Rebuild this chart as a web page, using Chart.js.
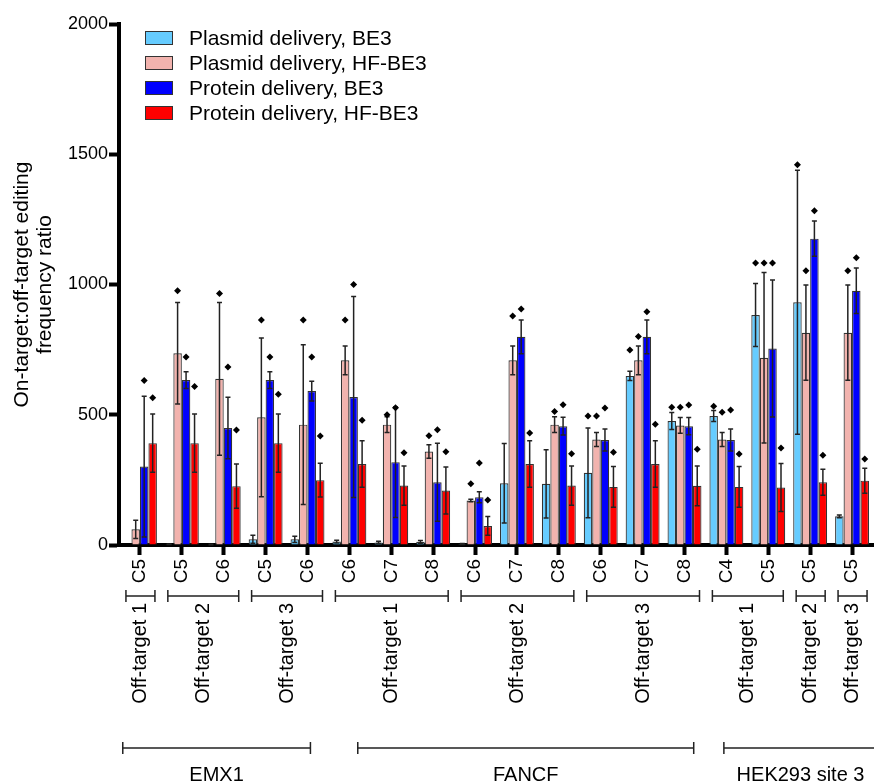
<!DOCTYPE html>
<html>
<head>
<meta charset="UTF-8">
<title>On-target:off-target editing frequency ratio</title>
<script src="https://cdn.jsdelivr.net/npm/chart.js"></script>
<style>
    html, body { margin: 0; padding: 0; background: #fff; }
    .chart-container { width: 874px; height: 782px; }
</style>
</head>
<body>
<div class="chart-container">
    <canvas id="ratioChart" width="874" height="782"></canvas>
</div>
<script>
// categories (editing position on each off-target site)
const siteLabels = ['C5', 'C5', 'C6', 'C5', 'C6', 'C6', 'C7', 'C8', 'C6', 'C7', 'C8', 'C6', 'C7', 'C8', 'C4', 'C5', 'C5', 'C5'];

const seriesNames = ['Plasmid delivery, BE3', 'Plasmid delivery, HF-BE3', 'Protein delivery, BE3', 'Protein delivery, HF-BE3'];
const seriesColors = ['#66CCFF', '#F2B3AE', '#0000FF', '#FF0000'];

// mean values
const plasmidBE3 = [0, 3, 2, 22, 22, 13, 10, 12, 4, 237, 235, 277, 649, 476, 495, 883, 932, 110];
const plasmidHF = [60, 736, 638, 490, 462, 709, 462, 359, 171, 709, 462, 405, 709, 459, 405, 719, 815, 815];
const proteinBE3 = [301, 633, 449, 633, 591, 568, 318, 241, 183, 799, 456, 403, 799, 456, 403, 754, 1176, 976];
const proteinHF = [391, 391, 226, 391, 249, 311, 228, 209, 73, 311, 228, 223, 311, 227, 223, 221, 241, 247];

// error bars (+/-)
const plasmidBE3Err = [0, 1, 1, 15, 12, 5, 4, 5, 2, 153, 131, 172, 18, 33, 21, 121, 507, 5];
const plasmidHFErr = [35, 195, 293, 305, 307, 55, 30, 26, 5, 55, 30, 27, 55, 30, 27, 327, 183, 183];
const proteinBE3Err = [270, 32, 118, 32, 38, 386, 212, 150, 21, 65, 34, 42, 65, 33, 42, 263, 68, 87];
const proteinHFErr = [112, 112, 85, 112, 65, 89, 75, 90, 36, 89, 75, 78, 89, 76, 78, 92, 50, 48];

// diamond markers above the bars
const plasmidBE3Dots = [null, null, null, null, null, null, null, null, null, null, null, 495, 749, 529, 533, 1083, 1460, null];
const plasmidHFDots = [null, 976, 965, 864, 864, 864, 500, 419, 235, 879, 512, 495, 800, 529, 510, 1083, 1053, 1053];
const proteinBE3Dots = [631, 722, 683, 722, 722, 1000, 527, 442, 315, 906, 538, 526, 895, 537, 518, 1083, 1283, 1103];
const proteinHFDots = [565, 608, 441, 579, 418, 479, 354, 358, 173, 430, 350, 356, 464, 368, 349, 372, 345, 330];

// off-target brackets (category index ranges)
const offTargetLabels = ['Off-target 1', 'Off-target 2', 'Off-target 3', 'Off-target 1', 'Off-target 2', 'Off-target 3', 'Off-target 1', 'Off-target 2', 'Off-target 3'];
const offTargetFirst = [0, 1, 3, 5, 8, 11, 14, 16, 17];
const offTargetLast = [0, 2, 4, 7, 10, 13, 15, 16, 17];

// gene brackets (fractional category positions)
const geneLabels = ['EMX1', 'FANCF', 'HEK293 site 3'];
const geneStart = [-0.41, 5.2, 13.94];
const geneEnd = [4.07, 13.22, 17.6];

const yTicks = [0, 500, 1000, 1500, 2000];

const values = [plasmidBE3, plasmidHF, proteinBE3, proteinHF];
const errors = [plasmidBE3Err, plasmidHFErr, proteinBE3Err, proteinHFErr];
const dots = [plasmidBE3Dots, plasmidHFDots, proteinBE3Dots, proteinHFDots];

const FONT = '"Liberation Sans", Arial, Helvetica, sans-serif';
Chart.defaults.font.family = FONT;
Chart.defaults.color = '#000';

function diamond(ctx, x, y, r) {
    ctx.beginPath();
    ctx.moveTo(x, y - r);
    ctx.lineTo(x + r, y);
    ctx.lineTo(x, y + r);
    ctx.lineTo(x - r, y);
    ctx.closePath();
    ctx.fill();
}

// error bars + markers, drawn over the bars
const errorBarPlugin = {
    id: 'errorBars',
    afterDatasetsDraw(chart) {
        const ctx = chart.ctx;
        const y = chart.scales.y;
        ctx.save();
        values.forEach((vals, di) => {
            const meta = chart.getDatasetMeta(di);
            meta.data.forEach((bar, i) => {
                const e = errors[di][i];
                if (e > 0) {
                    const top = y.getPixelForValue(vals[i] + e);
                    const bot = y.getPixelForValue(Math.max(vals[i] - e, 0));
                    ctx.strokeStyle = '#222';
                    ctx.lineWidth = 1.5;
                    ctx.beginPath();
                    ctx.moveTo(bar.x, top);
                    ctx.lineTo(bar.x, bot);
                    ctx.moveTo(bar.x - 2.5, top);
                    ctx.lineTo(bar.x + 2.5, top);
                    ctx.moveTo(bar.x - 2.5, bot);
                    ctx.lineTo(bar.x + 2.5, bot);
                    ctx.stroke();
                }
                const d = dots[di][i];
                if (d !== null) {
                    ctx.fillStyle = '#000';
                    diamond(ctx, bar.x, y.getPixelForValue(d), 3.5);
                }
            });
        });
        ctx.restore();
    }
};

// legend, axis title and grouping brackets under the x axis
const annotationPlugin = {
    id: 'annotations',
    afterDraw(chart) {
        const ctx = chart.ctx;
        const x = chart.scales.x;
        const area = chart.chartArea;
        ctx.save();

        // legend
        ctx.font = '21px ' + FONT;
        ctx.textBaseline = 'middle';
        ctx.textAlign = 'left';
        seriesNames.forEach((name, i) => {
            const cy = 38 + i * 25;
            ctx.fillStyle = seriesColors[i];
            ctx.fillRect(145, cy - 7, 28, 14);
            ctx.strokeStyle = '#333';
            ctx.lineWidth = 1;
            ctx.strokeRect(145.5, cy - 6.5, 27, 13);
            ctx.fillStyle = '#000';
            ctx.fillText(name, 189, cy + 1);
        });

        // y axis title
        ctx.save();
        ctx.translate(0, (area.top + area.bottom) / 2);
        ctx.rotate(-Math.PI / 2);
        ctx.textAlign = 'center';
        ctx.fillText('On-target:off-target editing', 0, 22);
        ctx.fillText('frequency ratio', 0, 45);
        ctx.restore();

        ctx.font = '20px ' + FONT;
        ctx.strokeStyle = '#222';
        ctx.lineWidth = 1.5;

        // off-target brackets + rotated labels
        offTargetLabels.forEach((label, i) => {
            const x0 = x.getPixelForValue(offTargetFirst[i]) - 14;
            const x1 = x.getPixelForValue(offTargetLast[i]) + 15;
            const by = 596;
            ctx.beginPath();
            ctx.moveTo(x0, by); ctx.lineTo(x1, by);
            ctx.moveTo(x0, by - 6); ctx.lineTo(x0, by + 6);
            ctx.moveTo(x1, by - 6); ctx.lineTo(x1, by + 6);
            ctx.stroke();
            ctx.save();
            ctx.translate((x0 + x1) / 2, 603);
            ctx.rotate(-Math.PI / 2);
            ctx.textAlign = 'right';
            ctx.textBaseline = 'middle';
            ctx.fillStyle = '#000';
            ctx.fillText(label, 0, 0);
            ctx.restore();
        });

        // gene brackets + labels
        geneLabels.forEach((label, i) => {
            const x0 = x.getPixelForValue(geneStart[i]);
            const x1 = x.getPixelForValue(geneEnd[i]);
            const by = 748;
            ctx.beginPath();
            ctx.moveTo(x0, by); ctx.lineTo(x1, by);
            ctx.moveTo(x0, by - 6); ctx.lineTo(x0, by + 6);
            ctx.moveTo(x1, by - 6); ctx.lineTo(x1, by + 6);
            ctx.stroke();
            ctx.textAlign = 'center';
            ctx.textBaseline = 'alphabetic';
            ctx.fillStyle = '#000';
            ctx.fillText(label, (x0 + x1) / 2, 781);
        });

        ctx.restore();
    }
};

const ctx = document.getElementById('ratioChart').getContext('2d');
const chart = new Chart(ctx, {
    type: 'bar',
    data: {
        labels: siteLabels,
        datasets: seriesNames.map((name, i) => ({
            label: name,
            data: values[i],
            backgroundColor: seriesColors[i],
            borderColor: '#333',
            borderWidth: 1.2,
            categoryPercentage: 0.81,
            barPercentage: 1.0
        }))
    },
    options: {
        responsive: false,
        animation: false,
        devicePixelRatio: 1,
        layout: { padding: { top: 24, right: 1, left: 0, bottom: 0 } },
        plugins: {
            legend: { display: false },
            tooltip: { enabled: false }
        },
        scales: {
            x: {
                offset: true,
                grid: {
                    offset: false,
                    drawOnChartArea: false,
                    drawTicks: true,
                    tickLength: 10,
                    tickWidth: 4,
                    color: '#000'
                },
                border: { display: true, width: 4, color: '#000' },
                ticks: {
                    autoSkip: false,
                    minRotation: 90,
                    maxRotation: 90,
                    padding: 4,
                    color: '#000',
                    font: { size: 19 }
                },
                afterFit(scale) {
                    scale.height = 782 - 545;
                    scale.paddingLeft = 0;
                    scale.paddingRight = 0;
                }
            },
            y: {
                min: 0,
                max: 2000,
                grid: {
                    drawOnChartArea: false,
                    drawTicks: true,
                    tickLength: 10,
                    tickWidth: 4,
                    color: '#000'
                },
                border: { display: true, width: 4, color: '#000' },
                afterBuildTicks(scale) {
                    scale.ticks = yTicks.map(v => ({ value: v }));
                },
                ticks: {
                    padding: 1,
                    color: '#000',
                    font: { size: 18 },
                    callback: v => String(v)
                },
                afterFit(scale) { scale.width = 119; }
            }
        }
    },
    plugins: [errorBarPlugin, annotationPlugin]
});
</script>
</body>
</html>
